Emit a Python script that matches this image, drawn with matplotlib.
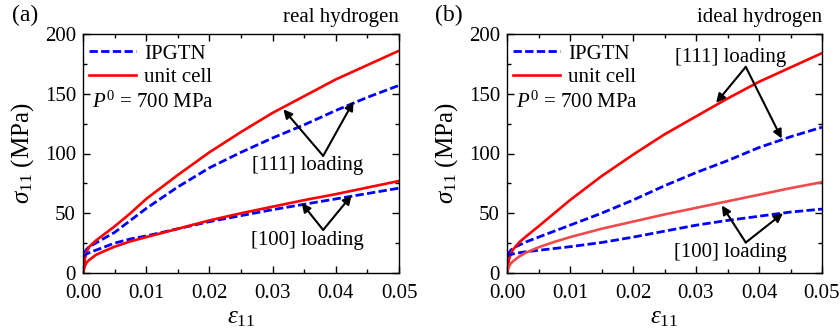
import matplotlib
matplotlib.use('Agg')
import matplotlib.pyplot as plt
from matplotlib.ticker import MultipleLocator, FormatStrFormatter

plt.rcParams.update({
    'font.family': 'Liberation Serif',
    'mathtext.fontset': 'custom',
    'mathtext.rm': 'Liberation Serif',
    'mathtext.it': 'Liberation Serif:italic',
    'mathtext.bf': 'Liberation Serif:bold',
    'axes.linewidth': 1.0,
})

# ---- data ----
strain = [0.0, 0.0003, 0.0006, 0.001, 0.002, 0.003, 0.005, 0.0075, 0.01,
          0.015, 0.02, 0.025, 0.03, 0.035, 0.04, 0.045, 0.05]

# (a) real hydrogen
real_cell_111 = [0, 12, 18, 22, 27, 31, 39, 50, 62, 82, 101, 118, 134, 148, 162, 174, 186]
real_gtn_111 = [17, 18, 20, 22, 25, 28, 34, 44, 54, 72, 88, 101, 113, 124, 136, 147, 157]
real_cell_100 = [0, 6, 9, 11, 15, 17.5, 22, 26.5, 30, 37, 44, 50, 55.5, 61, 66, 71.5, 77]
real_gtn_100 = [14, 15, 16, 17, 19, 21, 25, 28.5, 31, 37, 43, 48, 53, 57.5, 62, 66.5, 71]

# (b) ideal hydrogen
ideal_cell_111 = [0, 11, 16, 20, 26, 30.5, 39, 50, 61, 81, 99, 116, 131, 146, 160, 172, 184]
ideal_gtn_111 = [15, 17, 19, 21, 23.5, 26, 30, 35, 40, 50, 61, 73, 84, 94, 105, 114, 122]
ideal_cell_100 = [0, 5, 8, 10, 14, 17, 21.5, 26, 30, 37, 43, 49, 54.5, 60, 65.5, 71, 76]
ideal_gtn_100 = [14, 15, 15.5, 16, 17, 17.8, 19, 20.5, 22, 25.5, 30, 35, 40, 44, 47.5, 51, 53.5]

RED = '#ff0000'
RED_LIGHT = '#f04a4a'
BLUE = '#0000ff'
FS = 15

fig = plt.figure(figsize=(8.4, 3.33), dpi=100)
ax_a = fig.add_axes([83 / 840, 1 - 273 / 333, 316 / 840, 239 / 333])
ax_b = fig.add_axes([507 / 840, 1 - 273 / 333, 315 / 840, 239 / 333])


def style(ax):
    ax.set_xlim(0, 0.05)
    ax.set_ylim(0, 200)
    ax.xaxis.set_major_locator(MultipleLocator(0.01))
    ax.xaxis.set_minor_locator(MultipleLocator(0.005))
    ax.yaxis.set_major_locator(MultipleLocator(50))
    ax.yaxis.set_minor_locator(MultipleLocator(25))
    ax.xaxis.set_major_formatter(FormatStrFormatter('%.2f'))
    ax.tick_params(which='both', direction='in', top=True, right=True,
                   labelsize=FS, width=1.0)
    ax.tick_params(which='major', length=5)
    ax.tick_params(which='minor', length=3)
    ax.tick_params(axis='x', which='major', pad=8)
    ax.tick_params(axis='y', which='major', pad=5)
    ax.set_xlabel(r'$\varepsilon_{11}$', fontsize=18, labelpad=3)
    ax.set_ylabel(r'$\sigma_{11}$ (MPa)', fontsize=18)
    ax.yaxis.set_label_coords(-0.15, 0.5)


def curves(ax, gtn_111, cell_111, gtn_100, cell_100, lower_red):
    kw_b = dict(color=BLUE, lw=2.0, ls='--', dashes=(3, 1.2))
    ax.plot(strain, gtn_111, label='IPGTN', **kw_b)
    ax.plot(strain, cell_111, color=RED, lw=1.9, label='unit cell')
    ax.plot(strain, gtn_100, **kw_b)
    ax.plot(strain, cell_100, color=lower_red, lw=1.9)
    ax.legend(loc='upper left', frameon=False, fontsize=FS,
              handlelength=2.3, handletextpad=0.35, borderaxespad=0.2,
              labelspacing=0.2, bbox_to_anchor=(-0.022, 1.01))
    ax.text(0.03, 0.715, r'$P^0$ = 700 MPa', transform=ax.transAxes,
            fontsize=FS, ha='left', va='center')


def arrows(ax, label, origin, tips, text_xy):
    ax.text(*text_xy, label, fontsize=FS, ha='center', va='center')
    for tip in tips:
        ax.annotate('', xy=tip, xytext=origin,
                    arrowprops=dict(arrowstyle='-|>', color='k', lw=1.5,
                                    mutation_scale=13, shrinkA=0, shrinkB=0))


style(ax_a)
curves(ax_a, real_gtn_111, real_cell_111, real_gtn_100, real_cell_100, RED)
arrows(ax_a, '[111] loading', (0.038, 98), [(0.0317, 137), (0.0428, 143.5)], (0.0355, 90))
arrows(ax_a, '[100] loading', (0.038, 36), [(0.0346, 58.5), (0.0425, 65)], (0.0355, 27))
fig.text(12 / 840, 1 - 15 / 333, '(a)', fontsize=17, ha='left', va='center')
ax_a.text(1.0, 1.067, 'real hydrogen', transform=ax_a.transAxes, fontsize=FS,
          ha='right', va='center')

style(ax_b)
curves(ax_b, ideal_gtn_111, ideal_cell_111, ideal_gtn_100, ideal_cell_100, RED_LIGHT)
arrows(ax_b, '[111] loading', (0.0379, 172.5), [(0.0332, 142.5), (0.0436, 112.5)], (0.0355, 180))
arrows(ax_b, '[100] loading', (0.0379, 25.5), [(0.0341, 56.5), (0.0438, 50)], (0.0355, 17.5))
fig.text(435 / 840, 1 - 15 / 333, '(b)', fontsize=17, ha='left', va='center')
ax_b.text(1.0, 1.067, 'ideal hydrogen', transform=ax_b.transAxes, fontsize=FS,
          ha='right', va='center')

fig.savefig('out.png', dpi=100, facecolor='white')
